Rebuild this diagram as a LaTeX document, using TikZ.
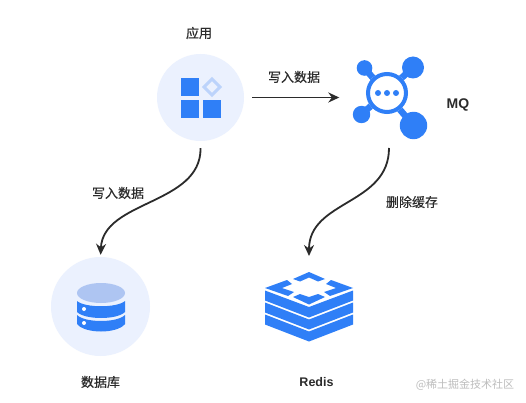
\documentclass[tikz,border=0pt]{standalone}
\usepackage{fontspec}
\setmainfont{Liberation Sans}
\newfontfamily\cjk{Noto Sans CJK SC}
\newfontfamily\cjkmed[FakeBold=0.25]{Noto Sans CJK SC}
\newfontfamily\cjkhvy[FakeBold=0.6]{Noto Sans CJK SC}
\usetikzlibrary{arrows.meta}
\definecolor{hub}{HTML}{EBF1FE}
\definecolor{iconblue}{HTML}{2F7FF7}
\definecolor{dblight}{HTML}{AEC5F2}
\definecolor{diam}{HTML}{BCD3FB}
\definecolor{ink}{HTML}{2B2B2B}
\definecolor{wm}{HTML}{BDBDBD}
\tikzset{
  x=1pt,y=-1pt,
  hubdisc/.style={circle,fill=hub,inner sep=0pt,minimum size=#1},
  anchorbox/.style={inner sep=0pt,minimum width=#1,minimum height=#1},
  label/.style={font=\cjkmed\fontsize{13}{15}\selectfont,text=ink,inner sep=0pt},
  title/.style={font=\cjkhvy\fontsize{13}{15}\selectfont,text=ink,inner sep=0pt},
  latin/.style={font=\bfseries\fontsize{#1}{15}\selectfont,text=ink,inner sep=0pt},
  conn/.style={draw=ink,line width=1.8pt,-{Stealth[length=11pt,width=10pt]}},
  icon/.style={fill=iconblue,draw=none},
}
\begin{document}
\begin{tikzpicture}
\useasboundingbox (0,0) rectangle (526,403);
\fill[white] (0,0) rectangle (526,403);
% hubs
\node[hubdisc=87pt] (app) at (200.5,97.5) {};
\node[hubdisc=99pt] (db) at (100.5,306.5) {};
\node[anchorbox=1pt] (mq) at (389,97.5) {};
\node[anchorbox=1pt] (redis) at (309,306) {};
% app icon
\fill[icon] (181,78) rectangle (199,96);
\fill[icon] (181,100) rectangle (199,118);
\fill[icon] (203,100) rectangle (221,118);
\draw[diam,line width=3pt] (212,79) -- (220,87) -- (212,95) -- (204,87) -- cycle;
% MQ icon
\draw[iconblue,line width=6.5pt] (364.5,68) -- (413,125);
\draw[iconblue,line width=6.5pt] (413,67.5) -- (361.5,114.5);
\fill[icon] (364.5,68) circle (7.8);
\fill[icon] (413,67.5) circle (11);
\fill[icon] (361.5,114.5) circle (8.7);
\fill[icon] (413.5,125.5) circle (13.7);
\fill[white] (387,93) circle (21);
\draw[iconblue,line width=4pt] (387,93) circle (19);
\fill[icon] (378,93) circle (3);
\fill[icon] (387,93) circle (3);
\fill[icon] (396,93) circle (3);
% DB icon
\fill[icon] (77,301) .. controls (85,308) and (117,308) .. (125,301) -- (125,312) .. controls (117,320) and (85,320) .. (77,312) -- cycle;
\fill[icon] (77,315) .. controls (85,323) and (117,323) .. (125,315) -- (125,324) .. controls (117,334) and (85,334) .. (77,324) -- cycle;
\fill[dblight] (101,293) ellipse [x radius=24,y radius=10];
\fill[white] (84,309) circle (2);
\fill[white] (84,323) circle (2);
% Redis icon
\fill[icon] (265,290.5) -- (309,307) -- (353,290.5) -- (353,300.5) -- (309,317.5) -- (265,300.5) -- cycle;
\fill[icon] (265,302.5) -- (309,319.5) -- (353,302.5) -- (353,312.5) -- (309,329.5) -- (265,312.5) -- cycle;
\fill[icon] (265,314.5) -- (309,331.5) -- (353,314.5) -- (353,324.5) -- (309,341.5) -- (265,324.5) -- cycle;
\fill[icon] (293,279) -- (309,272) -- (325,279) -- (318,281.5) -- (309,277.5) -- (300,281.5) -- cycle;
\fill[icon] (265,288) -- (287,280) -- (292,284) -- (282,288) -- (294,292) -- (288,296) -- cycle;
\fill[icon] (353,288) -- (331,280) -- (326,284) -- (336,288) -- (324,292) -- (330,296) -- cycle;
\fill[icon] (293,297) -- (300,294) -- (309,297) -- (318,294) -- (325,297) -- (309,304.5) -- cycle;
% connectors
\draw[conn,shorten <=8pt,shorten >=49pt] (app) -- (mq);
\draw[conn,shorten <=7pt,shorten >=2pt] (app.south) .. controls (201,205) and (103,200) .. (db.north);
\coordinate (redistop) at (309,256);
\coordinate (mqbottom) at (389,148);
\draw[conn] (mqbottom) .. controls (389,205) and (309,200) .. (redistop);
% labels
\node[title] (t1) at (199,33) {应用};
\node[label] (t2) at (294,77) {写入数据};
\node[latin=14] (t3) at (458,105) {MQ};
\node[label] (t4) at (118,193) {写入数据};
\node[label] (t5) at (412,202) {删除缓存};
\node[title] (t6) at (100.5,382) {数据库};
\node[latin=12.5] (t7) at (316.5,382) {Redis};
\node[font=\cjk\fontsize{11}{13}\selectfont,text=wm,inner sep=0pt] (t8) at (465,385) {@稀土掘金技术社区};
\end{tikzpicture}
\end{document}
